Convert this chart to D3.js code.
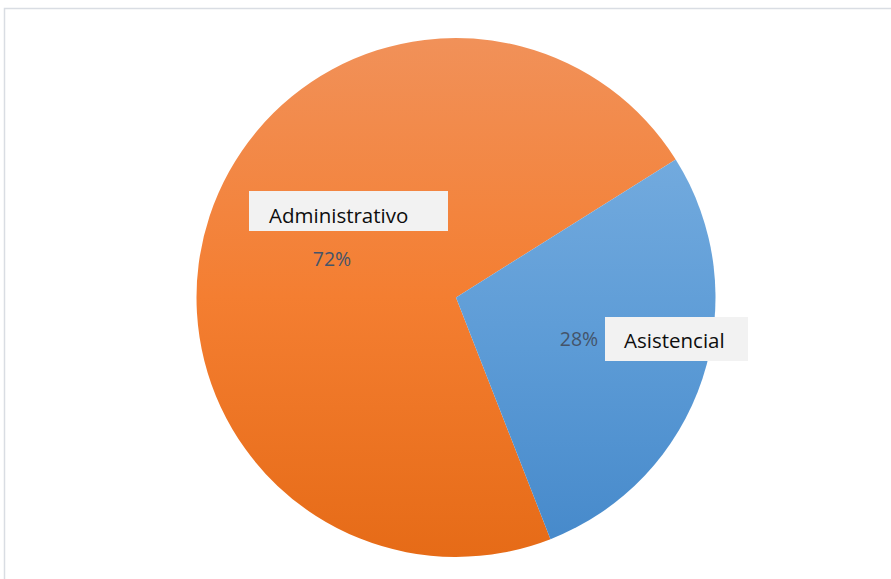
<!DOCTYPE html>
<html>
<head>
<meta charset="utf-8">
<script src="https://cdn.jsdelivr.net/npm/d3@7"></script>
<style>
  html, body { margin: 0; padding: 0; background: #fff; }
  svg { display: block; }
</style>
</head>
<body>
<svg id="chart" width="891" height="579"></svg>
<script>
// Staff distribution by area
const categories = ["Administrativo", "Asistencial"];
const values = [72, 28];
const percentLabels = ["72%", "28%"];

const W = 891, H = 579;
const cx = 456, cy = 297.5, R = 259.5;

const svg = d3.select("#chart");

// Chart area frame
svg.append("rect")
  .attr("x", 4.5).attr("y", 8.5)
  .attr("width", W + 20).attr("height", H + 20)
  .attr("fill", "#fff")
  .attr("stroke", "#d9dde3").attr("stroke-width", 1.5);

const defs = svg.append("defs");
const gradStops = {
  "Administrativo": ["#f19159", "#f47e31", "#e66b17"],
  "Asistencial": ["#72aade", "#5c9bd6", "#478acb"]
};
categories.forEach((c, i) => {
  const g = defs.append("linearGradient")
    .attr("id", "grad" + i)
    .attr("x1", 0).attr("y1", 0).attr("x2", 0).attr("y2", 1);
  gradStops[c].forEach((col, j, arr) => {
    g.append("stop").attr("offset", j / (arr.length - 1)).attr("stop-color", col);
  });
});

// Blue slice centred on the lower right, orange takes the rest
const blueMid = 108.25 * Math.PI / 180;
const blueSpan = values[1] / d3.sum(values) * 2 * Math.PI;
const pie = d3.pie()
  .sort(null)
  .value(d => d)
  .startAngle(blueMid + blueSpan / 2)
  .endAngle(blueMid + blueSpan / 2 + 2 * Math.PI);

const arcs = pie(values);
const arcGen = d3.arc().innerRadius(0).outerRadius(R);

const g = svg.append("g").attr("transform", `translate(${cx},${cy})`);
g.selectAll("path.slice")
  .data(arcs)
  .join("path")
  .attr("class", "slice")
  .attr("d", arcGen)
  .attr("fill", (d, i) => `url(#grad${i})`);

// Category labels in boxes and percentage labels
const labelFont = "'Open Sans', 'Liberation Sans', sans-serif";
const catBoxes = [
  { x: 249, y: 191, w: 199, h: 40, tx: 269, ty: 223, px: 332, py: 266 },
  { x: 605, y: 317, w: 143, h: 44, tx: 624, ty: 348, px: 579, py: 346 }
];

categories.forEach((c, i) => {
  const b = catBoxes[i];
  svg.append("rect")
    .attr("x", b.x).attr("y", b.y).attr("width", b.w).attr("height", b.h)
    .attr("fill", "#f2f2f2");
  svg.append("text")
    .attr("x", b.tx).attr("y", b.ty)
    .attr("font-family", labelFont)
    .attr("font-size", 20.5)
    .attr("fill", "#0d0d0d")
    .text(c);
  svg.append("text")
    .attr("x", b.px).attr("y", b.py)
    .attr("text-anchor", "middle")
    .attr("font-family", labelFont)
    .attr("font-size", 19.5)
    .attr("fill", "#44546a")
    .text(percentLabels[i]);
});
</script>
</body>
</html>
